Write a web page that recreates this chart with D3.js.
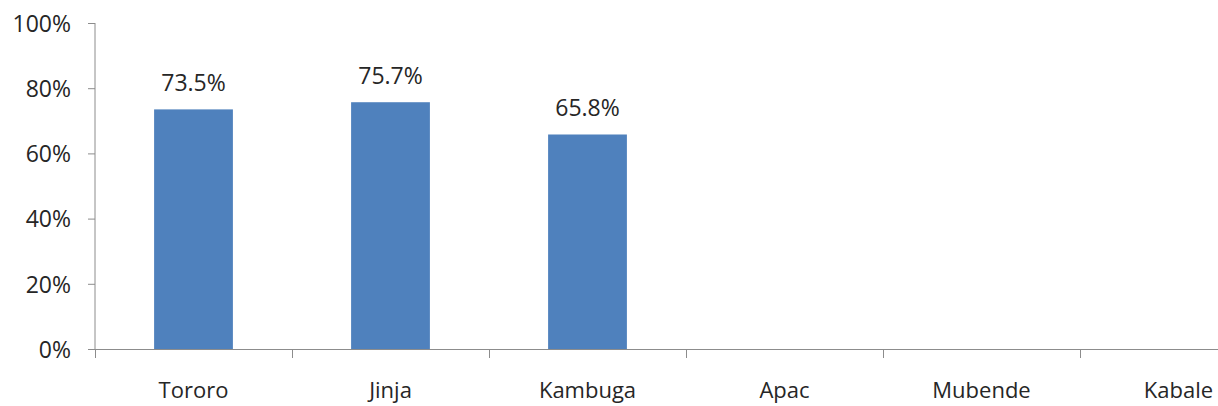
<!DOCTYPE html>
<html>
<head>
<meta charset="utf-8">
<script src="https://cdn.jsdelivr.net/npm/d3@7"></script>
<style>
  body { margin: 0; background: #fff; }
  svg { display: block; }
  text { font-family: "Open Sans", "Noto Sans", sans-serif; fill: #262626; }
</style>
</head>
<body>
<svg id="chart" width="1218" height="406"></svg>
<script>
// data
var districts = ["Tororo", "Jinja", "Kambuga", "Apac", "Mubende", "Kabale"];
var coverage = [73.5, 75.7, 65.8, null, null, null];
var yTicks = [0, 20, 40, 60, 80, 100];

var svg = d3.select("#chart");

var plotLeft = 95, plotTop = 23, plotBottom = 349;
var step = 197;

var x = d3.scaleBand()
    .domain(districts)
    .range([plotLeft, plotLeft + step * districts.length])
    .paddingInner(0.6)
    .paddingOuter(0.3);

var y = d3.scaleLinear()
    .domain([0, 100])
    .range([plotBottom, plotTop]);

var axisColor = "#8c8c8c";

// y axis
var yAxis = d3.axisLeft(y)
    .tickValues(yTicks)
    .tickSize(7)
    .tickPadding(17)
    .tickFormat(function(d){ return d + "%"; });

var gy = svg.append("g")
    .attr("transform", "translate(" + plotLeft + ",0)")
    .call(yAxis);
gy.select(".domain").attr("stroke", axisColor).attr("d", "M0," + plotTop + "V" + plotBottom);
gy.selectAll(".tick line").attr("stroke", axisColor);
gy.selectAll(".tick text")
    .attr("font-size", "23px")
    .attr("font-family", "Open Sans, Noto Sans, sans-serif")
    .attr("fill", "#262626")
    .attr("dy", "0.36em");

// x axis line
svg.append("line")
    .attr("x1", plotLeft).attr("x2", 1218)
    .attr("y1", plotBottom + 0.5).attr("y2", plotBottom + 0.5)
    .attr("stroke", axisColor);

// category boundary ticks
svg.selectAll(".xtick")
    .data(districts)
    .enter()
    .append("line")
        .attr("x1", function(d, i){ return plotLeft + i * step + 0.5; })
        .attr("x2", function(d, i){ return plotLeft + i * step + 0.5; })
        .attr("y1", plotBottom)
        .attr("y2", plotBottom + 9)
        .attr("stroke", axisColor);

// category labels
svg.selectAll(".xlabel")
    .data(districts)
    .enter()
    .append("text")
        .attr("x", function(d){ return x(d) + x.bandwidth() / 2; })
        .attr("y", 398)
        .attr("text-anchor", "middle")
        .attr("font-size", "22px")
        .text(function(d){ return d; });

var bars = districts.map(function(d, i){ return {name: d, value: coverage[i]}; })
    .filter(function(d){ return d.value != null; });

// bars
svg.selectAll(".bar")
    .data(bars)
    .enter()
    .append("rect")
        .attr("x", function(d){ return x(d.name); })
        .attr("y", function(d){ return y(d.value); })
        .attr("width", x.bandwidth())
        .attr("height", function(d){ return y(0) - y(d.value); })
        .attr("fill", "#4f81bd");

// value labels
svg.selectAll(".val")
    .data(bars)
    .enter()
    .append("text")
        .attr("x", function(d){ return x(d.name) + x.bandwidth() / 2; })
        .attr("y", function(d){ return y(d.value) - 18; })
        .attr("text-anchor", "middle")
        .attr("font-size", "23px")
        .text(function(d){ return d.value.toFixed(1) + "%"; });
</script>
</body>
</html>
